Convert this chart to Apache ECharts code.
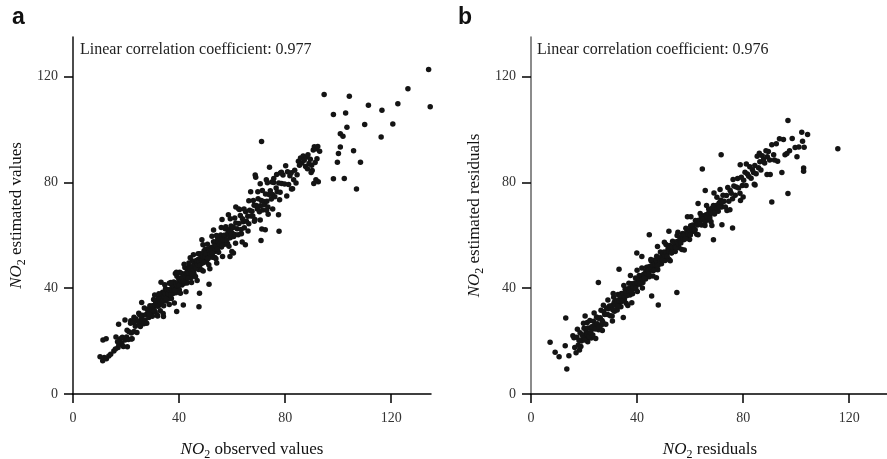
<!DOCTYPE html>
<html>
<head>
<meta charset="utf-8">
<script src="https://cdn.jsdelivr.net/npm/echarts@6/dist/echarts.min.js"></script>
<style>html,body{margin:0;padding:0;background:#fff}#c{width:887px;height:459px}</style>
</head>
<body>
<div id="c"></div>
<script>
// ---- data ----
const ticks = [0, 40, 80, 120];
const panelLetters = ['a', 'b'];
const corrA = 'Linear correlation coefficient: 0.977';
const corrB = 'Linear correlation coefficient: 0.976';
const xNameA = 'observed values';
const yNameA = 'estimated values';
const xNameB = 'residuals';
const yNameB = 'estimated residuals';

// panel a: [observed, estimated]
const pointsA = [
[10.2,14.1],[11.2,12.6],[11.8,13.8],[12.6,13.3],[13.5,14.4],[14.2,15.0],[11.3,20.4],[12.5,20.9],[16.2,21.6],[16.8,19.8],[17.3,18.6],[17.9,20.9],[18.4,19.2],[19.0,18.0],[19.6,20.4],[17.0,17.6],[18.6,21.5],[15.4,16.3],[16.0,17.0],[20.2,21.6],[17.2,26.4],[19.6,28.0],[20.5,17.9],[21.8,27.7],[23.0,29.0],[24.8,30.5],[22.0,20.8],
[20.4,24.1],[20.9,20.6],[21.1,23.5],[21.7,26.8],[22.0,23.1],[22.3,20.9],[22.8,27.0],[23.0,23.6],[23.5,25.6],[23.7,28.4],[24.1,23.3],[24.4,27.5],[24.9,26.6],[25.1,30.0],[25.4,25.5],[25.8,28.6],[26.0,27.4],[26.3,29.8],[26.7,26.6],[26.9,32.5],[27.2,28.0],[27.6,30.1],[27.8,26.8],[28.1,32.0],[28.5,30.5],[28.6,28.9],[29.0,33.4],[29.3,30.9],[29.5,32.7],[29.9,29.4],[30.1,32.8],[30.4,35.7],[30.6,31.6],[31.0,31.0],[31.2,34.8],[31.5,33.8],[31.7,29.9],[32.1,36.1],[32.3,33.5],[32.6,35.6],
[32.9,31.5],[33.0,37.2],[33.4,34.0],[33.6,35.7],[33.8,38.5],[34.2,33.4],[34.3,37.4],[34.7,36.4],[34.9,39.8],[35.1,35.2],[35.4,38.2],[35.6,37.0],[35.9,39.4],[36.1,36.0],[36.3,41.9],[36.6,37.4],[36.8,39.3],[37.1,36.1],[37.3,41.2],[37.6,39.6],[37.7,38.0],[38.0,42.4],[38.3,39.9],[38.4,41.6],[38.8,38.3],[38.9,41.6],[39.2,44.5],[39.5,40.5],[39.6,39.6],[39.9,43.5],
[40.1,39.3],[40.3,43.4],[40.6,42.3],[40.8,45.7],[41.1,41.2],[41.2,44.0],[41.5,42.9],[41.8,45.3],[42.0,41.9],[42.2,47.8],[42.5,43.3],[42.7,45.2],[43.0,42.0],[43.1,47.0],[43.4,45.4],[43.7,44.0],[43.9,48.3],[44.1,45.7],[44.4,47.6],[44.6,44.1],[44.9,47.6],[45.0,50.3],[45.3,46.3],[45.6,45.6],[45.7,49.3],[46.0,48.3],[46.2,44.4],[46.5,50.5],[46.8,48.0],[46.9,49.9],[47.2,50.9],[47.4,47.1],[47.7,50.1],[47.9,53.0],[48.2,49.3],[48.4,47.0],[48.7,52.9],[48.9,49.5],[49.1,51.2],[49.4,54.1],
[49.6,51.8],[49.9,54.7],[50.1,50.6],[50.4,49.9],[50.6,53.7],[50.9,52.7],[51.2,48.9],[51.4,54.9],[51.7,52.4],[51.9,54.4],[52.2,55.4],[52.5,51.7],[52.7,54.6],[53.0,57.6],[53.3,53.9],[53.5,51.6],[53.8,57.5],[54.1,54.2],[54.3,55.9],[54.6,58.8],[54.9,53.6],[55.2,57.8],[55.4,56.6],[55.7,60.1],[56.0,55.6],[56.3,58.6],[56.5,57.4],[56.9,59.9],[57.2,56.6],[57.4,62.5],[57.8,58.1],[58.1,60.1],[58.3,56.8],[58.7,62.1],[59.0,60.5],[59.3,59.1],[59.6,63.5],[59.9,61.0],[60.3,63.0],[60.6,59.6],
[28.3,31.4],[28.8,30.2],[29.1,32.9],[29.7,32.0],[30.0,33.4],[30.5,31.5],[30.9,33.6],[31.3,35.2],[31.6,33.4],[32.0,33.2],[32.5,36.0],[32.8,34.9],[33.2,36.2],[33.7,35.3],[34.0,37.7],[34.4,36.8],[34.8,37.9],[35.2,36.1],[35.7,39.0],[36.0,37.8],[36.4,39.3],[36.9,37.4],[37.2,39.4],[37.5,40.9],[38.1,39.4],[38.5,39.2],[38.7,41.7],[39.3,40.9],[39.7,42.2],[40.0,41.1],
[40.4,43.6],[40.9,42.8],[41.3,43.9],[41.7,42.6],[42.1,45.4],[42.4,44.2],[42.9,45.8],[43.3,43.8],[43.6,45.8],[44.0,47.4],[44.5,45.8],[44.8,45.5],[45.2,48.2],[45.5,47.1],[45.9,48.4],[46.3,47.4],[46.7,49.9],[47.0,48.9],[47.5,50.1],[47.8,48.7],[48.1,51.4],[48.6,50.4],[49.0,51.9],[49.3,49.8],[49.8,52.0],[50.2,53.1],[50.7,51.5],[51.0,51.2],[51.5,54.0],[51.8,52.9],
[52.3,54.3],[52.6,53.2],[53.1,55.8],[53.6,55.0],[54.0,56.1],[54.5,54.9],[54.8,57.6],[55.3,56.6],[55.8,58.2],[56.1,56.1],[56.6,58.3],[57.1,60.0],[57.5,58.3],[58.0,58.2],[58.4,60.9],[58.9,60.0],[59.4,61.4],[59.8,60.4],[60.4,63.1],
[61.0,60.3],[61.4,64.7],[61.9,62.5],[62.3,60.2],[62.6,64.5],[63.1,67.5],[63.4,62.2],[63.9,66.3],[64.2,65.1],[64.6,62.9],[65.1,68.9],[65.4,65.3],[65.9,67.2],[66.3,64.4],[66.6,69.5],[67.1,67.3],[67.5,69.1],[67.8,67.3],[68.3,71.4],[68.6,66.0],[69.1,71.3],[69.5,70.0],[69.8,73.8],[70.3,68.9],[70.7,71.2],[71.0,73.2],[71.5,69.6],[71.9,72.8],[72.3,71.6],[72.6,75.6],[73.1,72.9],[73.5,70.7],[73.9,75.4],[74.4,76.9],[74.8,73.7],[75.2,75.4],[75.7,80.0],[76.1,74.6],[76.6,77.9],[77.0,76.5],[77.6,79.8],[78.1,76.3],[78.7,79.6],[79.2,82.8],[79.8,79.4],
[30.8,37.4],[32.4,37.9],[34.6,41.3],[36.9,42.2],[38.6,45.6],[40.2,46.0],[41.9,49.1],[43.7,49.5],[45.4,52.7],[47.2,53.0],[49.0,56.4],[50.7,56.6],[52.4,59.7],[54.1,59.9],[55.9,63.0],[57.6,63.2],[59.3,66.3],[61.0,66.6],[62.8,69.8],[64.5,70.0],[66.3,73.1],[68.0,73.2],[69.7,76.5],[71.4,77.0],[73.3,79.9],[75.0,80.2],[76.8,83.0],[78.6,83.9],[80.2,86.3],
[31.9,29.5],[34.0,30.4],[36.3,33.8],[38.2,34.4],[40.5,38.1],[42.6,38.7],[44.7,42.2],[46.8,42.9],[49.1,46.5],[51.6,47.4],[53.9,51.1],[56.4,52.0],[58.8,55.9],[61.3,57.0],[63.5,60.6],[66.0,61.6],[68.4,65.3],[70.6,65.8],[73.0,69.5],[75.3,70.0],[77.9,73.5],[80.6,74.9],[82.4,77.5],
[25.9,34.6],[33.2,42.3],[39.1,31.2],[41.6,33.7],[47.5,33.0],[47.7,38.1],[51.3,41.5],[48.6,58.3],[53.0,62.0],[56.2,66.0],[58.6,67.8],[61.4,70.7],[59.9,53.9],[60.5,53.3],[65.0,56.4],[70.9,58.0],[71.2,62.4],[72.5,62.1],[77.7,61.5],[77.5,67.8],[74.1,85.7],[68.7,82.8],[71.1,95.5],[70.6,79.5],[78.2,83.6],[34.1,29.3],[44.2,51.5],[39.0,46.0],[54.2,49.5],[62.5,70.0],[63.8,57.5],[72.9,81.0],[67.0,76.5],[75.7,81.5],[59.2,52.0],[68.9,82.0],[73.6,68.0],
[80.9,84.0],[81.3,79.2],[81.8,82.5],[82.3,83.7],[82.8,77.6],[83.2,81.0],[83.6,84.6],[84.1,79.8],[84.5,82.9],[85.0,88.0],[85.4,86.5],[85.8,89.2],[86.3,87.4],[86.8,90.0],[87.2,88.4],[87.7,86.0],[88.1,89.6],[88.6,90.5],[89.0,87.2],[89.5,88.8],[90.0,86.5],[90.6,92.3],[91.0,93.5],[91.3,87.5],[91.8,92.7],[92.3,93.6],[92.5,80.3],[90.8,79.6],[91.6,81.0],[93.0,91.8],[90.2,84.5],[92.0,89.0],[89.8,83.8],[88.4,85.2],
[94.7,113.3],[98.2,105.7],[102.8,106.3],[104.2,112.6],[103.3,100.9],[100.8,98.4],[101.8,97.5],[100.8,93.4],[100.1,90.9],[105.8,92.0],[99.7,87.6],[108.4,87.6],[98.2,81.4],[102.3,81.5],[106.9,77.5],[110.0,101.9],[111.4,109.2],[116.5,107.3],[116.2,97.2],[120.6,102.1],[122.5,109.8],[126.3,115.4],[134.1,122.7],[134.7,108.6]
];

// panel b: [residual, estimated residual]
const pointsB = [
[7.2,19.6],[9.1,15.8],[10.6,14.1],[12.9,18.2],[13.1,28.7],[13.5,9.5],[14.3,14.5],[15.8,22.0],[20.4,29.5],[19.0,20.0],[21.0,21.0],[22.0,23.0],[23.2,24.6],[24.5,25.4],[20.5,22.2],[22.7,21.2],[25.5,24.3],[26.5,26.0],[21.4,19.8],
[17.5,24.5],[19.8,26.8],[23.8,30.6],[26.9,24.0],[29.0,35.5],[24.4,21.0],[18.3,16.6],[27.3,33.6],[21.2,27.0],[30.7,27.6],
[16.2,21.3],[16.5,17.6],[17.0,15.6],[17.3,21.5],[17.8,18.4],[18.1,20.2],[18.5,23.2],[18.8,18.0],[19.3,22.4],[19.6,21.3],[20.0,24.9],[20.3,20.4],[20.8,23.6],[21.1,22.5],[21.5,25.0],[21.8,21.7],[22.2,27.8],[22.5,23.3],[22.9,25.4],[23.3,22.3],[23.6,27.5],[24.0,26.0],[24.3,24.6],[24.7,29.1],[25.0,26.6],[25.4,28.6],[25.7,25.2],[26.1,28.8],[26.4,31.7],[26.8,27.8],[27.1,27.1],[27.5,31.1],[27.8,30.1],[28.2,26.4],[28.5,32.5],[28.9,30.1],[29.2,32.2],[29.6,33.3],[29.9,29.6],[30.2,32.6],
[30.6,29.5],[30.8,33.7],[31.2,36.6],[31.5,31.3],[31.9,35.3],[32.1,34.0],[32.5,31.8],[32.8,37.6],[33.2,34.1],[33.5,35.8],[33.9,33.0],[34.1,38.0],[34.5,35.7],[34.8,37.4],[35.2,35.7],[35.5,39.6],[35.9,34.3],[36.2,39.4],[36.6,38.1],[36.9,41.9],[37.3,37.4],[37.6,39.6],[38.0,41.7],[38.3,37.9],[38.7,41.1],[39.0,39.8],[39.4,43.9],[39.7,41.0],[40.1,38.8],[40.4,43.4],[40.8,44.8],[41.1,41.5],[41.5,43.2],[41.8,47.6],[42.2,42.2],[42.5,45.3],[42.9,43.9],[43.2,43.5],[43.6,47.9],[43.9,45.5],
[44.3,48.0],[44.6,44.3],[45.0,47.4],[45.3,50.4],[45.7,46.8],[46.0,44.6],[46.4,50.6],[46.7,47.3],[47.1,49.2],[47.4,52.1],[47.8,47.0],[48.1,51.2],[48.5,50.2],[48.8,53.7],[49.2,49.3],[49.5,52.3],[49.9,51.3],[50.2,53.7],[50.6,50.5],[50.9,56.5],[51.3,52.1],[51.6,54.1],[52.0,51.0],[52.3,56.2],[52.7,54.7],[53.0,53.3],[53.4,57.8],[53.7,55.3],[54.1,57.3],[54.4,53.9],[54.8,57.5],[55.1,59.9],[55.5,56.0],[55.8,55.3],[56.2,59.3],[56.5,58.3],[56.9,54.6],[57.2,60.7],[57.6,58.3],[57.9,60.4],
[58.4,62.7],[58.9,59.3],[59.3,61.1],[59.8,58.4],[60.2,63.6],[60.7,61.4],[61.1,63.2],[61.6,61.6],[62.0,65.6],[62.5,60.4],[62.9,65.6],[63.4,64.4],[63.8,68.3],[64.3,63.9],[64.7,66.2],[65.2,67.4],[65.6,63.7],[66.1,67.0],[66.5,65.8],[67.0,70.0],[67.4,67.2],[67.9,65.1],[68.3,69.8],[68.8,71.3],[69.2,68.1],[69.7,69.9],[70.1,74.4],[70.6,69.1],[71.0,72.3],[71.5,71.0],[71.9,70.7],[72.4,75.2],[72.8,72.9],[73.3,70.7],[73.7,75.1],[74.2,78.1],[74.6,72.9],
[75.1,77.0],[75.5,75.9],[76.0,73.8],[76.5,78.7],[77.0,75.2],[77.4,78.3],[77.9,81.5],[78.3,77.9],[78.8,75.9],[79.3,82.0],[79.7,78.8],[80.2,80.8],[80.7,83.9],[81.1,78.8],[81.6,83.2],[82.1,82.3],[82.5,85.9],[83.0,81.6],[83.5,84.8],[83.9,83.8],[84.4,86.4],[84.9,83.3],[85.3,89.9],[85.8,85.6],[86.3,87.8],[86.7,84.7],[87.2,90.1],[87.7,88.7],[88.1,87.4],[88.6,92.0],[89.1,89.7],[89.5,91.7],[90.0,88.5],
[30.4,33.0],[30.9,31.8],[31.4,34.7],[31.8,33.6],[32.3,35.2],[32.7,33.2],[33.1,35.3],[33.6,37.0],[34.0,35.3],[34.4,35.1],[34.9,37.9],[35.3,36.9],[35.8,38.3],[36.1,37.2],[36.6,39.8],[37.0,38.9],
[37.4,40.0],[37.9,38.8],[38.2,41.5],[38.6,40.4],[39.1,42.0],[39.5,40.0],[39.9,42.1],[40.3,43.7],[40.7,42.0],[41.2,41.9],[41.6,44.6],[42.0,43.6],[42.5,45.0],[42.8,43.9],[43.3,46.5],[43.7,45.6],
[44.1,46.7],[44.5,45.4],[45.0,48.3],[45.4,47.2],[45.8,48.7],[46.2,46.7],[46.7,48.9],[47.1,50.5],[47.5,48.8],[47.9,48.6],[48.3,51.3],[48.7,50.3],[49.1,51.6],[49.6,50.7],[50.0,53.2],[50.4,52.3],
[50.8,53.4],[51.2,52.1],[51.7,55.0],[52.1,53.9],[52.6,55.5],[53.0,53.5],[53.4,55.6],[53.9,57.3],[54.3,55.6],[54.7,55.4],[55.2,57.7],[55.6,56.7],[56.1,58.1],[56.5,57.1],[57.0,59.7],[57.4,58.8],
[57.9,60.0],[58.3,58.7],[58.8,61.6],[59.2,60.5],[59.7,62.1],[60.1,60.1],[60.6,62.3],[61.0,63.9],[61.5,62.3],[61.9,62.1],[62.4,64.9],[62.8,63.9],[63.3,65.3],[63.7,64.3],[64.2,66.9],[64.6,66.0],
[65.1,66.2],[65.6,65.0],[66.0,67.8],[66.5,66.8],[67.0,68.4],[67.4,66.4],[67.9,68.6],[68.4,70.3],[68.8,68.6],[69.3,68.5],[69.8,71.3],[70.2,70.3],[70.7,71.7],[71.1,70.7],[71.6,73.3],[72.0,72.4],
[35.0,41.0],[40.0,46.8],[45.2,50.9],[50.3,57.4],[55.4,61.2],[60.3,67.0],[66.2,71.3],[71.3,77.3],[76.2,81.1],[81.2,87.0],[86.1,91.0],
[36.5,33.5],[42.0,40.1],[47.3,44.0],[52.5,50.4],[57.8,54.5],[63.0,60.2],[68.2,63.7],[73.9,69.4],[79.0,73.2],[84.2,79.3],[89.0,83.0],
[25.4,42.2],[33.2,47.2],[39.9,53.3],[41.8,52.0],[44.6,60.2],[47.7,55.8],[45.5,37.1],[48.0,33.7],[55.0,38.4],[34.8,28.9],[64.6,85.1],[65.7,77.0],[71.7,90.5],[78.9,86.7],[68.8,58.3],[76.0,62.8],[90.8,72.6],[75.0,69.7],[69.0,76.0],[63.0,72.0],[72.0,64.0],[52.0,61.5],[59.0,67.0],[37.5,44.8],[31.0,38.0],[38.0,34.5],[80.0,74.5],[84.5,79.0],[90.2,83.0],[90.8,94.3],
[92.5,94.6],[91.5,90.5],[93.7,96.5],[95.2,96.2],[94.6,83.8],[95.8,90.5],[96.5,90.9],[96.9,103.4],[96.9,75.8],[98.5,96.6],[99.6,93.2],[100.3,89.7],[101.0,93.4],[102.1,99.0],[102.4,95.6],[103.0,93.3],[104.3,98.1],[102.8,85.5],[102.8,84.2],[115.7,92.7],[93.0,88.0],[97.5,92.0],[91.8,88.5]
];

// ---- chart ----
const SERIF = '"Liberation Serif", "DejaVu Serif", serif';
const chart = echarts.init(document.getElementById('c'), null, {renderer: 'canvas'});

function richName(rest) { return '{i|NO}{s|2}' + ' ' + rest; }
const nameStyle = {
  fontFamily: SERIF, fontSize: 17, color: '#111',
  rich: {
    i: {fontFamily: SERIF, fontSize: 17, fontStyle: 'italic', color: '#111'},
    s: {fontFamily: SERIF, fontSize: 12, color: '#111', padding: [10, 0, 0, 0]}
  }
};

function xAx(idx, name) {
  return {
    gridIndex: idx, type: 'value', min: 0, max: 135,
    splitLine: {show: false},
    axisLine: {onZero: false, lineStyle: {color: '#000', width: 1.5}},
    axisTick: {customValues: ticks, length: 9, lineStyle: {color: '#000', width: 1.5}},
    axisLabel: {customValues: ticks, margin: 17, fontFamily: SERIF, fontSize: 14, color: '#333'},
    name: richName(name), nameLocation: 'middle', nameGap: 45, nameTextStyle: nameStyle
  };
}
function yAx(idx, name, lineColor) {
  return {
    gridIndex: idx, type: 'value', min: 0, max: 135,
    splitLine: {show: false},
    axisLine: {onZero: false, lineStyle: {color: lineColor, width: 1.5}},
    axisTick: {customValues: ticks, length: 9, lineStyle: {color: '#000', width: 1.5}},
    axisLabel: {customValues: ticks, margin: 15, fontFamily: SERIF, fontSize: 14, color: '#333'},
    name: richName(name), nameLocation: 'middle', nameGap: 45, nameTextStyle: nameStyle
  };
}

const option = {
  animation: false,
  backgroundColor: '#fff',
  grid: [
    {left: 73, top: 37, width: 358, height: 357, outerBoundsMode: 'none', containLabel: false},
    {left: 531, top: 37, width: 358, height: 357, outerBoundsMode: 'none', containLabel: false}
  ],
  xAxis: [xAx(0, xNameA), xAx(1, xNameB)],
  yAxis: [yAx(0, yNameA, '#111'), yAx(1, yNameB, '#666')],
  series: [
    {type: 'scatter', xAxisIndex: 0, yAxisIndex: 0, data: pointsA, symbolSize: 5.5,
     itemStyle: {color: '#141414', opacity: 1}},
    {type: 'scatter', xAxisIndex: 1, yAxisIndex: 1, data: pointsB, symbolSize: 5.5,
     itemStyle: {color: '#141414', opacity: 1}}
  ],
  graphic: [
    {type: 'text', left: 12, top: 6, style: {text: panelLetters[0], font: 'bold 23px "Liberation Sans", Arial, sans-serif', fill: '#111'}},
    {type: 'text', left: 458, top: 6, style: {text: panelLetters[1], font: 'bold 23px "Liberation Sans", Arial, sans-serif', fill: '#111'}},
    {type: 'text', left: 80, top: 42, style: {text: corrA, font: '16px "Liberation Serif", serif', fill: '#222'}},
    {type: 'text', left: 537, top: 42, style: {text: corrB, font: '16px "Liberation Serif", serif', fill: '#222'}}
  ]
};
chart.setOption(option);
</script>
</body>
</html>
